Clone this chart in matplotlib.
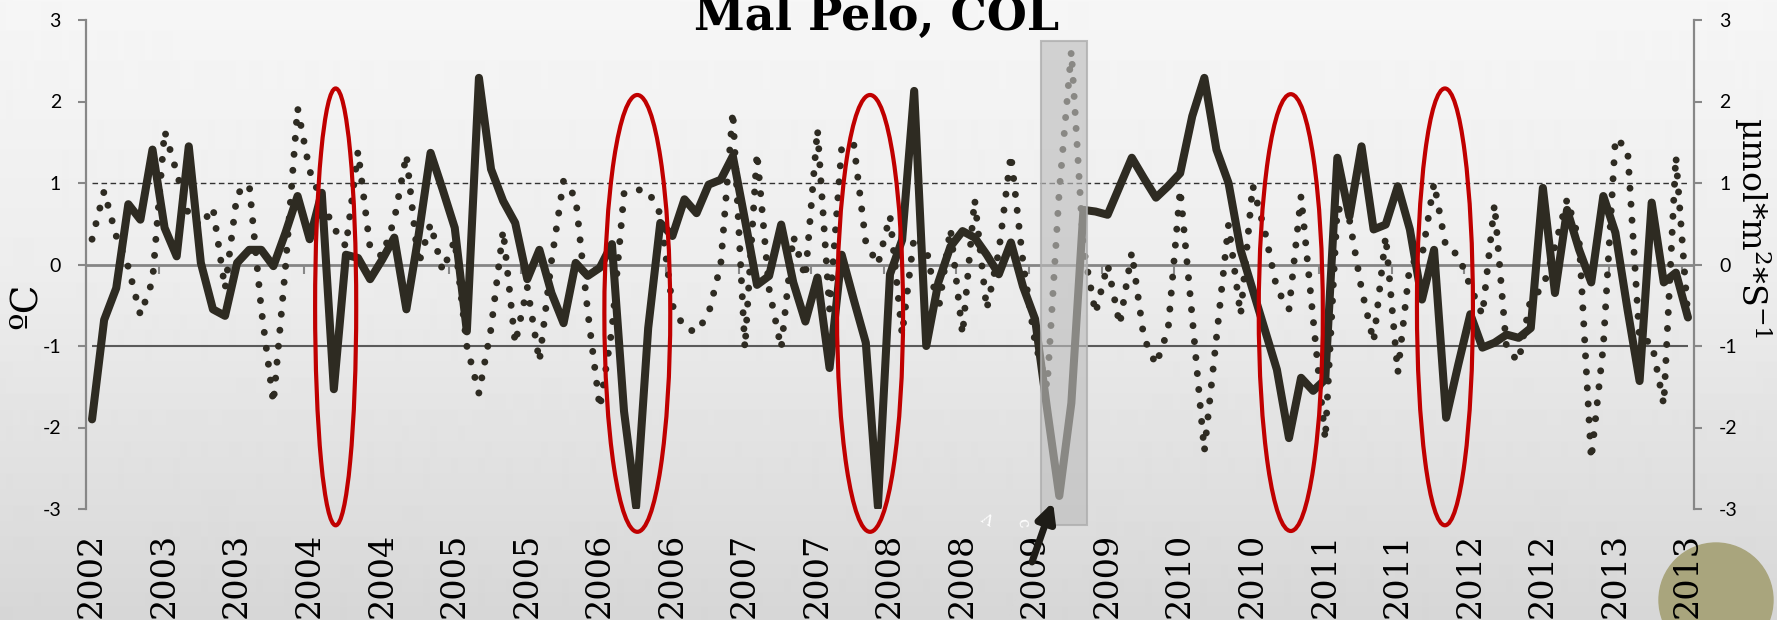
import numpy as np
import matplotlib
matplotlib.use("Agg")
import matplotlib.pyplot as plt
from matplotlib.patches import Ellipse, Rectangle, Circle
from matplotlib.transforms import IdentityTransform

plt.rcParams['axes.unicode_minus'] = False
plt.rcParams['mathtext.fontset'] = 'dejavuserif'

# monthly anomalies, Malpelo (solid: temperature, dotted: second series)
sst = [-1.90, -0.68, -0.29, 0.74, 0.55, 1.41, 0.45, 0.10, 1.45, 0.02,
       -0.55, -0.63, 0.02, 0.18, 0.18, -0.02, 0.39, 0.84, 0.31, 0.88,
       -1.53, 0.12, 0.08, -0.18, 0.06, 0.33, -0.55, 0.35, 1.37, 0.92,
       0.45, -0.82, 2.29, 1.17, 0.78, 0.51, -0.18, 0.18, -0.35, -0.72,
       0.02, -0.14, -0.04, 0.25, -1.80, -2.97, -0.78, 0.51, 0.35, 0.80,
       0.63, 0.98, 1.04, 1.33, 0.55, -0.25, -0.14, 0.49, -0.22, -0.70,
       -0.16, -1.27, 0.12, -0.43, -0.96, -2.97, -0.12, 0.30, 2.13, -1.00,
       -0.22, 0.22, 0.41, 0.33, 0.12, -0.12, 0.27, -0.27, -0.67, -1.78,
       -2.84, -1.70, 0.67, 0.65, 0.61, 0.96, 1.31, 1.06, 0.82, 0.96,
       1.12, 1.82, 2.29, 1.41, 1.00, 0.18, -0.31, -0.80, -1.29, -2.13,
       -1.39, -1.55, -1.41, 1.31, 0.59, 1.45, 0.43, 0.49, 0.96, 0.43,
       -0.43, 0.18, -1.88, -1.23, -0.61, -1.02, -0.96, -0.86, -0.90, -0.78,
       0.94, -0.35, 0.67, 0.18, -0.22, 0.84, 0.39, -0.55, -1.43, 0.76,
       -0.22, -0.10, -0.65]

par = [0.31, 0.90, 0.35, -0.03, -0.62, -0.20, 1.64, 1.13, 0.60, 0.47,
       0.70, -0.30, 0.87, 0.98, -0.55, -1.70, -0.03, 1.92, 1.15, 0.78,
       0.45, 0.22, 1.39, 0.20, 0.10, 0.55, 1.35, 0.00, 0.50, -0.08,
       0.30, -1.00, -1.58, -0.79, 0.42, -0.97, -0.28, -1.19, 0.04, 1.03,
       0.82, -0.58, -1.76, -0.80, 0.87, 0.92, 0.90, 0.62, -0.50, -0.78,
       -0.83, -0.60, 0.00, 1.88, -1.03, 1.37, -0.30, -1.03, 0.35, -0.16,
       1.66, -0.55, 1.43, 1.48, 0.27, 0.00, 0.60, -0.86, 0.35, 0.20,
       -0.57, 0.44, -0.86, 0.80, -0.55, 0.16, 1.35, 0.03, -0.96, -1.50,
       0.90, 2.62, 0.20, -0.60, 0.00, -0.74, 0.15, -0.90, -1.23, -0.80,
       0.92, -0.65, -2.29, -0.90, 0.49, -0.62, 0.97, 0.41, -0.30, -0.55,
       0.84, -0.67, -2.15, 0.70, 0.55, -0.30, -0.95, 0.35, -1.33, 0.00,
       0.10, 1.00, 0.20, 0.12, -0.27, -0.62, 0.74, -1.04, -1.19, -0.41,
       -0.29, 0.22, 0.80, 0.30, -2.39, -1.00, 1.55, 1.42, -0.93, -0.95,
       -1.72, 1.33, -0.65]

year_labels = ['2002', '2003', '2003', '2004', '2004', '2005', '2005', '2006',
               '2006', '2007', '2007', '2008', '2008', '2009', '2009', '2010',
               '2010', '2011', '2011', '2012', '2012', '2013', '2013']

y_ticks = [-3, -2, -1, 0, 1, 2, 3]

# highlighted events: (centre month, centre y, width, height)
events = [(20.15, -0.52, 3.4, 5.36), (45.1, -0.6, 5.45, 5.36),
          (64.35, -0.6, 5.46, 5.36), (99.15, -0.59, 5.3, 5.36),
          (111.9, -0.52, 4.63, 5.36)]

W, H = 1777, 620
fig = plt.figure(figsize=(W / 100, H / 100), dpi=100)

# grey gradient background
bg = fig.add_axes([0, 0, 1, 1], zorder=-10)
bg.axis('off')
grad = np.interp(np.arange(H), [0, 265, 530, 620], [0.965, 0.93, 0.865, 0.84])
bg.imshow(grad[:, None], cmap='gray', vmin=0, vmax=1, aspect='auto',
          extent=[0, 1, 0, 1], interpolation='bilinear')
bg.set_xlim(0, 1)
bg.set_ylim(0, 1)

ax = fig.add_axes([86 / W, 111 / H, 1608 / W, 489 / H])
ax.set_facecolor('none')
n = len(sst)
x = np.arange(n)
ax.set_xlim(-0.5, n - 0.5)
ax.set_ylim(-3, 3)

axis_grey = '#878787'
ink = '#2e2b22'

ax.axhline(0, color='#858585', lw=2.0, zorder=1)
ax.hlines(1, 0, n - 1, colors='#333333', linestyles=(0, (4, 2.5)), lw=1.0, zorder=1)
ax.hlines(-1, 0, n - 1, colors='#5a5a5a', lw=1.5, zorder=1)
ax.vlines(np.arange(5.5, n - 1, 6), -0.12, 0, colors=axis_grey, lw=1.5, zorder=1)

ax.plot(x, par, color=ink, lw=5.0, linestyle=(0, (0.01, 2.3)),
        dash_capstyle='round', zorder=3)
ax.plot(x, sst, color=ink, lw=5.8, solid_joinstyle='round',
        solid_capstyle='round', zorder=4)

for cx, cy, w, h in events:
    ax.add_patch(Ellipse((cx, cy), w, h, fill=False, ec='#c00000', lw=3,
                         clip_on=False, zorder=5))

ax.add_patch(Rectangle((78.47, -3.2), 3.85, 5.94, fc=(0.74, 0.74, 0.74, 0.64),
                       ec=(0.68, 0.68, 0.68, 0.8), lw=1.5, clip_on=False, zorder=6))

for s in ['top', 'bottom']:
    ax.spines[s].set_visible(False)
for s in ['left', 'right']:
    ax.spines[s].set_color(axis_grey)
    ax.spines[s].set_linewidth(1.6)

# same scale on both sides
ax.set_yticks(y_ticks)
ax.set_yticklabels([str(v) for v in y_ticks], family='Lato', fontsize=14)
ax.yaxis.set_ticks_position('both')
ax.tick_params(axis='y', which='both', direction='out', length=6, width=1.5,
               color=axis_grey, pad=12, left=True, right=True,
               labelleft=True, labelright=True)
ax.set_xticks(np.arange(0, n, 6))
ax.set_xticklabels(year_labels, rotation=90, family='DejaVu Serif', fontsize=24)
ax.tick_params(axis='x', length=0, pad=17)

fig.text(877 / W, 1 - 30 / H, 'Mal Pelo, COL', ha='center', va='baseline',
         fontsize=33, fontweight='bold', family='DejaVu Serif')
fig.text(26 / W, 1 - 306 / H, 'ºC', rotation=90, ha='center', va='center',
         fontsize=27, family='DejaVu Serif')
fig.text(1753 / W, 1 - 228 / H, 'µmol*m$^2$*S$^{-1}$', rotation=270,
         ha='center', va='center', fontsize=24, family='DejaVu Serif')

# arrow pointing at the 2009 minimum
ax.annotate('', xy=(1053, H - 502), xycoords='figure pixels',
            xytext=(1032, H - 562), textcoords='figure pixels',
            arrowprops=dict(arrowstyle='-|>', color='#1e1c17', lw=5,
                            mutation_scale=28, shrinkA=0, shrinkB=0),
            annotation_clip=False, zorder=8)
fig.text(990 / W, 1 - 517 / H, 'V', color='white', rotation=150, ha='center',
         va='center', fontsize=11, family='DejaVu Serif')
fig.text(1022 / W, 1 - 523 / H, 'c', color='white', rotation=-80, ha='center',
         va='center', fontsize=12, family='DejaVu Serif')

fig.add_artist(Circle((1716, H - 600), 57, transform=IdentityTransform(),
                      color='#a9a57d', zorder=-5))

fig.savefig('out.png', dpi=100)
